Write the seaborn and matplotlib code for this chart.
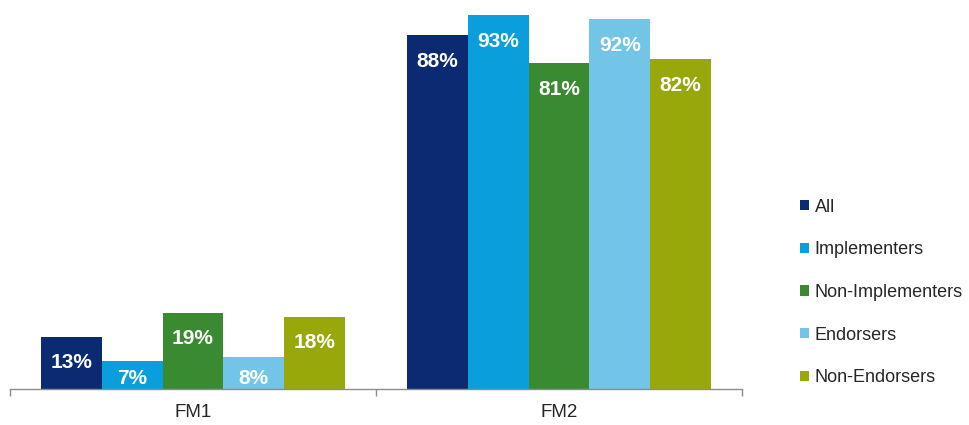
import matplotlib
matplotlib.use("Agg")
import matplotlib.pyplot as plt
import seaborn as sns
import pandas as pd
import numpy as np

categories = ["FM1", "FM2"]
series = ["All", "Implementers", "Non-Implementers", "Endorsers", "Non-Endorsers"]
all_vals = [13, 88]
implementers = [7, 93]
non_implementers = [19, 81]
endorsers = [8, 92]
non_endorsers = [18, 82]
colors = ["#0b2a72", "#0a9fdc", "#3a8a32", "#72c5e6", "#98a80a"]

values = [all_vals, implementers, non_implementers, endorsers, non_endorsers]
rows = []
for s, vals in zip(series, values):
    for c, v in zip(categories, vals):
        rows.append({"cat": c, "series": s, "value": v})
df = pd.DataFrame(rows)

sns.set_theme(style="white")
plt.rcParams["font.family"] = ["Liberation Sans", "DejaVu Sans"]

fig = plt.figure(figsize=(9.69, 4.25), dpi=100)
ax = fig.add_axes([10/969, 36/425, 732/969, 389/425])

sns.barplot(data=df, x="cat", y="value", hue="series", hue_order=series,
            order=categories, palette=colors, width=0.83, saturation=1,
            edgecolor="none", linewidth=0, ax=ax)

ax.set_ylim(0, 96.8)
ax.set_xlim(-0.5, 1.5)

for cont in ax.containers:
    for bar in cont:
        h = bar.get_height()
        y = max(h - 6.5, 2.7)
        ax.text(bar.get_x() + bar.get_width() / 2, y, f"{int(round(h))}%",
                ha="center", va="center", color="white", fontsize=15,
                fontweight="bold")

for side in ["top", "right", "left"]:
    ax.spines[side].set_visible(False)
ax.spines["bottom"].set_color("#8c8c8c")
ax.spines["bottom"].set_linewidth(1)
ax.set_yticks([])
ax.set_xlabel("")
ax.set_ylabel("")
ax.set_xticks([0, 1])
ax.set_xticklabels(categories, fontsize=13.5, color="#262626")
ax.tick_params(axis="x", which="major", length=0, pad=11)
ax.set_xticks([-0.5, 0.5, 1.5], minor=True)
ax.tick_params(axis="x", which="minor", length=5, color="#8c8c8c", width=1,
               direction="out", bottom=True)

handles, labels = ax.get_legend_handles_labels()
ax.legend(handles, labels, loc="center left", bbox_to_anchor=(793/969, 0.312),
          bbox_transform=fig.transFigure, frameon=False, fontsize=13,
          handlelength=0.5, handleheight=0.5, handletextpad=0.3,
          labelspacing=1.42, borderaxespad=0)

fig.savefig("out.png", dpi=100)
